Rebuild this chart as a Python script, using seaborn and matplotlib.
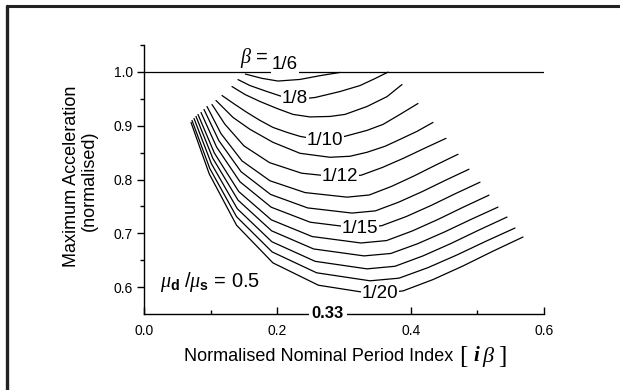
import matplotlib
matplotlib.use("Agg")
import matplotlib.pyplot as plt
import seaborn as sns
import pandas as pd
from matplotlib.lines import Line2D

# ---------------- data ----------------
beta_labels = ["1/7", "1/8", "1/9", "1/10", "1/11", "1/12", "1/13",
               "1/14", "1/15", "1/16", "1/17", "1/18", "1/19", "1/20"]

x_b7 = [0.152, 0.177, 0.201, 0.234, 0.264, 0.294]
y_b7 = [0.996, 0.988, 0.983, 0.986, 0.993, 0.999]

x_b8 = [0.141, 0.159, 0.1845, 0.2115, 0.234, 0.2565, 0.294, 0.324, 0.3465, 0.366]
y_b8 = [0.9857, 0.9746, 0.9635, 0.9524, 0.9496, 0.9524, 0.9635, 0.9746, 0.9876, 0.9996]

x_b9 = [0.132, 0.1515, 0.174, 0.1995, 0.2235, 0.249, 0.279, 0.3015, 0.3345, 0.3645, 0.387]
y_b9 = [0.9728, 0.958, 0.945, 0.932, 0.921, 0.9163, 0.9172, 0.921, 0.9357, 0.954, 0.9765]

x_b10 = [0.117, 0.1365, 0.1545, 0.174, 0.1935, 0.2145, 0.234, 0.267, 0.2985, 0.3345, 0.3585, 0.384, 0.411]
y_b10 = [0.9561, 0.9394, 0.9246, 0.9098, 0.8968, 0.8876, 0.8802, 0.8728, 0.8793, 0.8913, 0.9024, 0.921, 0.9413]

x_b11 = [0.108, 0.1335, 0.159, 0.1935, 0.234, 0.279, 0.309, 0.3345, 0.3615, 0.384, 0.4095, 0.4335]
y_b11 = [0.9469, 0.9154, 0.8932, 0.8691, 0.8487, 0.8413, 0.8432, 0.8506, 0.8617, 0.8746, 0.8895, 0.9061]

x_b12 = [0.102, 0.1212, 0.15, 0.1884, 0.2364, 0.294, 0.3258, 0.3576, 0.3894, 0.4212, 0.453]
y_b12 = [0.9394, 0.9030, 0.8624, 0.8313, 0.8117, 0.8043, 0.8080, 0.8224, 0.8396, 0.8583, 0.8765]

x_b13 = [0.0945, 0.1155, 0.147, 0.189, 0.2415, 0.3045, 0.3378, 0.3711, 0.4044, 0.4377, 0.471]
y_b13 = [0.9357, 0.8852, 0.8346, 0.7976, 0.7757, 0.7672, 0.7712, 0.7871, 0.8062, 0.8269, 0.8469]

x_b14 = [0.09, 0.1122, 0.1455, 0.1899, 0.2454, 0.312, 0.3471, 0.3822, 0.4173, 0.4524, 0.4875]
y_b14 = [0.9302, 0.8724, 0.8146, 0.7722, 0.7472, 0.7376, 0.7417, 0.7580, 0.7775, 0.7987, 0.8191]

x_b15 = [0.0855, 0.1089, 0.144, 0.1908, 0.2493, 0.3195, 0.3564, 0.3933, 0.4302, 0.4671, 0.504]
y_b15 = [0.9246, 0.8602, 0.7957, 0.7485, 0.7206, 0.7098, 0.7141, 0.7311, 0.7515, 0.7737, 0.7950]

x_b16 = [0.081, 0.1055, 0.1421, 0.191, 0.2522, 0.3255, 0.3639, 0.4023, 0.4407, 0.4791, 0.5175]
y_b16 = [0.9209, 0.8493, 0.7776, 0.7250, 0.6940, 0.6820, 0.6865, 0.7043, 0.7256, 0.7487, 0.7709]

x_b17 = [0.078, 0.1032, 0.141, 0.1914, 0.2544, 0.33, 0.3702, 0.4104, 0.4506, 0.4908, 0.531]
y_b17 = [0.9172, 0.8394, 0.7617, 0.7046, 0.6709, 0.6580, 0.6625, 0.6806, 0.7024, 0.7260, 0.7487]

x_b18 = [0.075, 0.101, 0.1399, 0.1918, 0.2567, 0.3345, 0.3765, 0.4185, 0.4605, 0.5025, 0.5445]
y_b18 = [0.9135, 0.8296, 0.7457, 0.6843, 0.6479, 0.6339, 0.6387, 0.6580, 0.6811, 0.7061, 0.7302]

x_b19 = [0.072, 0.0987, 0.1388, 0.1922, 0.2589, 0.339, 0.3825, 0.426, 0.4695, 0.513, 0.5565]
y_b19 = [0.9098, 0.8204, 0.7309, 0.6654, 0.6266, 0.6117, 0.6166, 0.6362, 0.6598, 0.6853, 0.7098]

x_b20 = [0.0705, 0.0978, 0.1388, 0.1934, 0.2616, 0.3435, 0.3885, 0.4335, 0.4785, 0.5235, 0.5685]
y_b20 = [0.9061, 0.8106, 0.7150, 0.6450, 0.6035, 0.5876, 0.5929, 0.6140, 0.6393, 0.6668, 0.6931]

# beta = 1/6 limit line
x_b6 = [0.0, 0.6]
y_b6 = [1.0, 1.0]

# in-line curve labels
label_text = ["1/6", "1/8", "1/10", "1/12", "1/15", "1/20"]
label_x = [0.2115, 0.2265, 0.2715, 0.294, 0.324, 0.354]
label_y = [1.013, 0.9505, 0.8718, 0.8061, 0.7080, 0.5885]

x_ticks = [0.0, 0.2, 0.4, 0.6]
x_ticklabels = ["0.0", "0.2", "0.4", "0.6"]
x_minor = [0.1, 0.3, 0.5]
y_ticks = [0.6, 0.7, 0.8, 0.9, 1.0]
y_ticklabels = ["0.6", "0.7", "0.8", "0.9", "1.0"]
y_minor = [0.65, 0.75, 0.85, 0.95, 1.05]

# ---------------- build table ----------------
xs = [x_b7, x_b8, x_b9, x_b10, x_b11, x_b12, x_b13, x_b14, x_b15, x_b16, x_b17, x_b18, x_b19, x_b20]
ys = [y_b7, y_b8, y_b9, y_b10, y_b11, y_b12, y_b13, y_b14, y_b15, y_b16, y_b17, y_b18, y_b19, y_b20]
rows = []
for lab, xx, yy in zip(beta_labels, xs, ys):
    for i, (a, b) in enumerate(zip(xx, yy)):
        rows.append({"beta": lab, "order": i, "x": a, "y": b})
df = pd.DataFrame(rows)

# ---------------- style ----------------
sns.set_theme(style="white")
plt.rcParams['font.family'] = ['Liberation Sans', 'DejaVu Sans']
plt.rcParams['mathtext.fontset'] = 'custom'
plt.rcParams['mathtext.rm'] = 'Liberation Sans'
plt.rcParams['mathtext.it'] = 'Liberation Serif:italic'
plt.rcParams['mathtext.bf'] = 'Liberation Sans:bold'
for k in ['text.color', 'axes.labelcolor', 'xtick.color', 'ytick.color', 'axes.edgecolor']:
    plt.rcParams[k] = 'black'

fig = plt.figure(figsize=(6.2, 3.9), dpi=100)
W, H = 620.0, 390.0
ax = fig.add_axes([144 / W, 1 - 314 / H, 400 / W, 269 / H])

sns.lineplot(data=df, x="x", y="y", units="beta", estimator=None, sort=False,
             color="black", linewidth=0.9, ax=ax, legend=False)
sns.lineplot(x=x_b6, y=y_b6, color="black", linewidth=0.9, ax=ax, legend=False)

ax.set_xlim(0.0, 0.6)
ax.set_ylim(0.55, 1.05)
for s in ["top", "right"]:
    ax.spines[s].set_visible(False)
for s in ["left", "bottom"]:
    ax.spines[s].set_linewidth(1.0)
    ax.spines[s].set_color("black")

ax.set_xticks(x_ticks)
ax.set_xticklabels(x_ticklabels)
ax.set_xticks(x_minor, minor=True)
ax.set_yticks(y_ticks)
ax.set_yticklabels(y_ticklabels)
ax.set_yticks(y_minor, minor=True)
ax.tick_params(axis="x", which="major", direction="in", length=5, width=1,
               bottom=True, labelsize=10, pad=7)
ax.tick_params(axis="x", which="minor", direction="in", length=3, width=1, bottom=True)
ax.tick_params(axis="y", which="major", direction="out", length=5, width=1,
               left=True, labelsize=10, pad=3)
ax.tick_params(axis="y", which="minor", direction="out", length=3, width=1, left=True)

# curve labels with white background breaking the lines
for t, lx, ly in zip(label_text, label_x, label_y):
    ax.text(lx, ly, t, ha="center", va="center", fontsize=13.5, zorder=5,
            bbox=dict(boxstyle="square,pad=0.06", fc="white", ec="none"))

ax.text(0.165, 1.026, r"$\beta$ =", ha="center", va="center", fontsize=14.5, zorder=5)
ax.text(0.024, 0.600, r"$\mu_\mathbf{d}\ /\mu_\mathbf{s}$ = 0.5", ha="left",
        va="baseline", fontsize=14.5, zorder=5)
ax.text(0.276, 0.55, "0.33", ha="center", va="center", fontsize=12,
        fontweight="bold", zorder=6, clip_on=False,
        bbox=dict(boxstyle="square,pad=0.15", fc="white", ec="none"))

# axis labels
ax.set_xlabel("Normalised Nominal Period Index", fontsize=13)
ax.xaxis.set_label_coords((319 - 144) / 400, (314 - 348) / 269)
fig.text(463 / W, 1 - 357 / H, "[", fontsize=18, family="Liberation Serif",
         ha="center", va="center")
fig.text(476 / W, 1 - 356 / H, "i", fontsize=15, family="Liberation Serif",
         style="italic", weight="bold", ha="center", va="center")
fig.text(489 / W, 1 - 357 / H, r"$\beta$", fontsize=16, ha="center", va="center")
fig.text(502 / W, 1 - 357 / H, "]", fontsize=18, family="Liberation Serif",
         ha="center", va="center")

ax.set_ylabel("")
fig.text(72 / W, 1 - 176 / H, "Maximum Acceleration", rotation=90,
         fontsize=13, ha="center", va="center")
fig.text(89.5 / W, 1 - 181 / H, "(normalised)", rotation=90,
         fontsize=13, ha="center", va="center")

# outer frame fragments (top and left)
fig.add_artist(Line2D([7 / W, 1.0], [1 - 5.5 / H, 1 - 5.5 / H], color="#222222",
                      linewidth=2.2, transform=fig.transFigure))
fig.add_artist(Line2D([7 / W, 7 / W], [0.0, 1 - 5.5 / H], color="#222222",
                      linewidth=2.4, transform=fig.transFigure))

fig.savefig("out.png", dpi=100)
